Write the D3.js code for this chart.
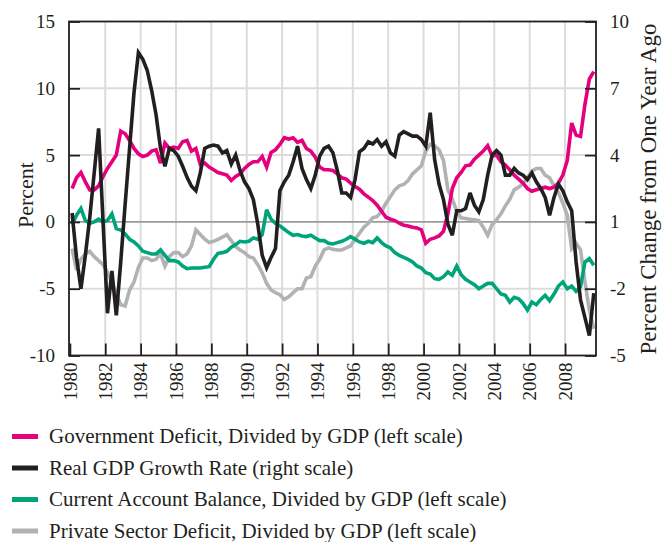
<!DOCTYPE html>
<html><head><meta charset="utf-8">
<script src="https://cdn.jsdelivr.net/npm/d3@7"></script>
<style>body{margin:0;background:#fff}</style>
</head><body>
<svg id="c" width="662" height="542"></svg>
<script>
// Quarterly data, 1980Q1 .. 2009Q3
const firstYear = 1980;
const govDeficit = [
 2.5,3.3,3.7,3.0,2.4,2.4,2.7,3.4,4.0,4.5,
 5.0,6.8,6.6,6.1,5.5,5.1,4.9,5.0,5.3,5.4,
 4.4,5.9,5.5,5.6,5.5,6.0,6.1,5.3,5.5,4.3,
 4.4,4.1,3.9,3.7,3.6,3.5,3.1,3.4,3.6,4.0,
 4.3,4.5,4.5,4.9,4.1,5.2,5.4,5.8,6.3,6.2,
 6.3,5.95,6.1,5.5,5.3,4.85,4.1,3.9,3.9,3.85,
 3.6,3.3,3.2,2.9,2.65,2.45,2.1,1.85,1.6,1.25,
 0.8,0.35,0.2,0.1,-0.1,-0.25,-0.3,-0.4,-0.45,-0.6,
 -1.6,-1.3,-1.2,-1.05,-0.7,0.6,2.5,3.3,3.7,4.2,
 4.25,4.7,5.0,5.3,5.7,4.95,5.0,4.5,4.25,3.9,
 3.5,3.2,2.9,2.5,2.3,2.4,2.5,2.6,2.5,2.6,
 2.9,3.5,4.6,7.4,6.5,6.4,8.8,10.7,11.25];
const gdpGrowth = [
 1.4,-0.6,-2.0,-0.5,1.2,3.2,5.2,1.0,-3.1,-1.2,
 -3.2,-0.8,1.8,4.3,6.8,8.6,8.3,7.8,6.9,5.8,
 4.3,3.5,4.3,4.2,3.95,3.5,3.0,2.6,2.4,3.2,
 4.3,4.4,4.45,4.4,4.1,4.2,3.6,4.0,3.3,2.8,
 2.5,2.0,0.9,-0.5,-1.05,-0.6,-0.2,2.4,2.8,3.1,
 3.7,4.4,3.4,2.9,2.5,3.1,3.95,4.3,4.4,4.1,
 3.3,2.3,2.3,2.1,2.9,4.15,4.3,4.6,4.5,4.7,
 4.4,4.6,4.1,3.95,4.9,5.05,4.95,4.85,4.85,4.7,
 4.4,5.9,3.8,2.7,2.0,0.9,0.4,1.5,1.5,1.6,
 2.3,1.75,1.45,2.0,3.1,4.0,4.2,4.0,3.1,3.1,
 3.4,3.2,3.1,2.9,3.2,2.8,2.5,2.1,1.3,2.1,
 2.7,2.4,1.9,1.5,-0.8,-2.5,-3.3,-4.1,-2.2];
const currentAccount = [
 -0.2,0.5,1.0,0.1,-0.1,0.0,0.2,0.0,0.1,0.6,
 -0.5,-0.6,-0.9,-1.3,-1.5,-1.8,-2.2,-2.3,-2.4,-2.4,
 -2.1,-2.5,-2.9,-2.9,-3.0,-3.3,-3.5,-3.45,-3.45,-3.45,
 -3.4,-3.35,-2.8,-2.35,-2.3,-2.2,-1.9,-1.7,-1.45,-1.5,
 -1.45,-1.2,-1.3,-0.95,0.9,0.2,-0.1,-0.3,-0.55,-0.8,
 -1.0,-0.95,-1.05,-1.1,-1.0,-1.2,-1.4,-1.4,-1.6,-1.65,
 -1.55,-1.45,-1.3,-1.1,-1.3,-1.5,-1.6,-1.45,-1.55,-1.2,
 -1.55,-1.8,-1.95,-2.3,-2.5,-2.65,-2.8,-3.0,-3.3,-3.45,
 -3.8,-3.9,-4.25,-4.3,-4.1,-3.75,-4.0,-3.3,-3.95,-4.3,
 -4.5,-4.7,-5.0,-4.8,-4.6,-4.6,-5.0,-5.4,-5.5,-6.0,
 -5.65,-5.75,-6.1,-6.6,-6.0,-6.2,-5.8,-5.5,-5.9,-5.4,
 -4.8,-4.5,-5.0,-4.8,-5.2,-4.85,-3.0,-2.75,-3.25];
const privateDeficit = [
 -2.0,-3.6,-2.8,-2.4,-2.2,-2.6,-2.9,-3.2,-3.8,-4.5,
 -5.4,-6.2,-6.3,-5.1,-4.5,-3.4,-2.7,-2.7,-2.9,-2.8,
 -2.4,-3.3,-2.6,-2.3,-2.3,-2.6,-2.4,-1.8,-0.6,-0.95,
 -1.3,-1.55,-1.45,-1.3,-1.15,-0.95,-1.4,-1.85,-2.1,-2.3,
 -2.6,-2.7,-3.2,-3.8,-4.6,-5.1,-5.3,-5.45,-5.8,-5.6,
 -5.3,-5.0,-5.0,-4.2,-4.1,-3.3,-2.8,-2.1,-1.95,-2.05,
 -2.1,-2.1,-1.95,-1.8,-1.3,-0.85,-0.4,-0.1,0.3,0.4,
 0.8,1.4,1.9,2.4,2.7,2.8,3.1,3.6,3.9,4.2,
 5.3,5.8,5.7,5.4,4.6,2.4,1.7,0.8,0.3,0.25,
 0.2,0.15,0.1,-0.4,-1.0,-0.2,0.15,0.6,1.2,1.7,
 2.4,2.6,2.85,3.3,3.8,4.0,4.0,3.5,3.3,2.7,
 2.2,1.4,0.5,-2.0,-1.6,-2.1,-4.5,-6.6,-8.0];
const leftTicks = [-10, -5, 0, 5, 10, 15];
const rightTicks = [-5, -2, 1, 4, 7, 10];
const yearTicks = [1980,1982,1984,1986,1988,1990,1992,1994,1996,1998,2000,2002,2004,2006,2008];
const legendLabels = [
 "Government Deficit, Divided by GDP (left scale)",
 "Real GDP Growth Rate (right scale)",
 "Current Account Balance, Divided by GDP (left scale)",
 "Private Sector Deficit, Divided by GDP (left scale)"];
const colors = ["#e5007e", "#231f20", "#00a47a", "#b1b2b4"];

const svg = d3.select("#c");
const L = 69, R = 596, T = 21.5, B = 355.5;
const x = d3.scaleLinear().domain([1979.95, 2009.75]).range([L, R]);
const yL = d3.scaleLinear().domain([-10, 15]).range([B, T]);
const yR = d3.scaleLinear().domain([-5, 10]).range([B, T]);
const serif = "'Liberation Serif','Times New Roman',serif";
const tq = i => firstYear + i / 4 + 0.125;

// grid
const g = svg.append("g");
g.selectAll("line.v").data(yearTicks.slice(1)).join("line")
  .attr("x1", d => x(d)).attr("x2", d => x(d)).attr("y1", T).attr("y2", B)
  .attr("stroke", "#dcdcdc").attr("stroke-width", 2);
g.selectAll("line.h").data([10, 5, -5]).join("line")
  .attr("x1", L).attr("x2", R).attr("y1", d => yL(d)).attr("y2", d => yL(d))
  .attr("stroke", "#dcdcdc").attr("stroke-width", 2);
g.append("line").attr("x1", L).attr("x2", R).attr("y1", yL(0)).attr("y2", yL(0))
  .attr("stroke", "#9a9a9a").attr("stroke-width", 1.6);

// series
const lineL = d3.line().x((d, i) => x(tq(i))).y(d => yL(d));
const lineR = d3.line().x((d, i) => x(tq(i))).y(d => yR(d));
const series = [
  {data: privateDeficit, gen: lineL, c: colors[3]},
  {data: currentAccount, gen: lineL, c: colors[2]},
  {data: govDeficit, gen: lineL, c: colors[0]},
  {data: gdpGrowth, gen: lineR, c: colors[1]}];
svg.append("g").selectAll("path").data(series).join("path")
  .attr("d", s => s.gen(s.data)).attr("fill", "none")
  .attr("stroke", s => s.c).attr("stroke-width", 3.6)
  .attr("stroke-linejoin", "miter").attr("stroke-miterlimit", 3);

// axes
const fmt = d => String(d);
const ax = svg.append("g").attr("transform", `translate(0,${B})`)
  .call(d3.axisBottom(x).tickValues(yearTicks).tickSizeInner(-12).tickSizeOuter(0).tickFormat(fmt));
ax.selectAll("text").attr("transform", "rotate(-90)").attr("x", -7).attr("y", 0)
  .attr("dy", "0.33em").style("text-anchor", "end");
const al = svg.append("g").attr("transform", `translate(${L},0)`)
  .call(d3.axisLeft(yL).tickValues(leftTicks).tickSizeInner(-11).tickSizeOuter(0).tickPadding(14).tickFormat(fmt));
const ar = svg.append("g").attr("transform", `translate(${R},0)`)
  .call(d3.axisRight(yR).tickValues(rightTicks).tickSizeInner(-11).tickSizeOuter(0).tickPadding(14).tickFormat(fmt));
[ax, al, ar].forEach(a => {
  a.select(".domain").remove();
  a.selectAll("line").attr("stroke", "#231f20").attr("stroke-width", 1.8);
  a.selectAll("text").attr("font-family", serif).attr("font-size", 19).attr("fill", "#231f20");
});
// frame
svg.append("rect").attr("x", L).attr("y", T).attr("width", R - L).attr("height", B - T)
  .attr("fill", "none").attr("stroke", "#231f20").attr("stroke-width", 1.8);

// titles
svg.append("text").attr("transform", "translate(33,195) rotate(-90)")
  .attr("text-anchor", "middle").attr("font-family", serif).attr("font-size", 22)
  .attr("fill", "#231f20").text("Percent");
svg.append("text").attr("transform", "translate(656,189) rotate(-90)")
  .attr("text-anchor", "middle").attr("font-family", serif).attr("font-size", 23)
  .attr("fill", "#231f20").text("Percent Change from One Year Ago");

// legend
const rowsY = [436.5, 468, 499.5, 531];
const lg = svg.append("g").selectAll("g").data(legendLabels).join("g")
  .attr("transform", (d, i) => `translate(0,${rowsY[i]})`);
lg.append("rect").attr("x", 12).attr("y", -2.5).attr("width", 26).attr("height", 5)
  .attr("fill", (d, i) => colors[i]);
lg.append("text").attr("x", 49).attr("y", 6.5).attr("font-family", serif).attr("font-size", 21)
  .attr("fill", "#231f20").text(d => d);
</script>
</body></html>
